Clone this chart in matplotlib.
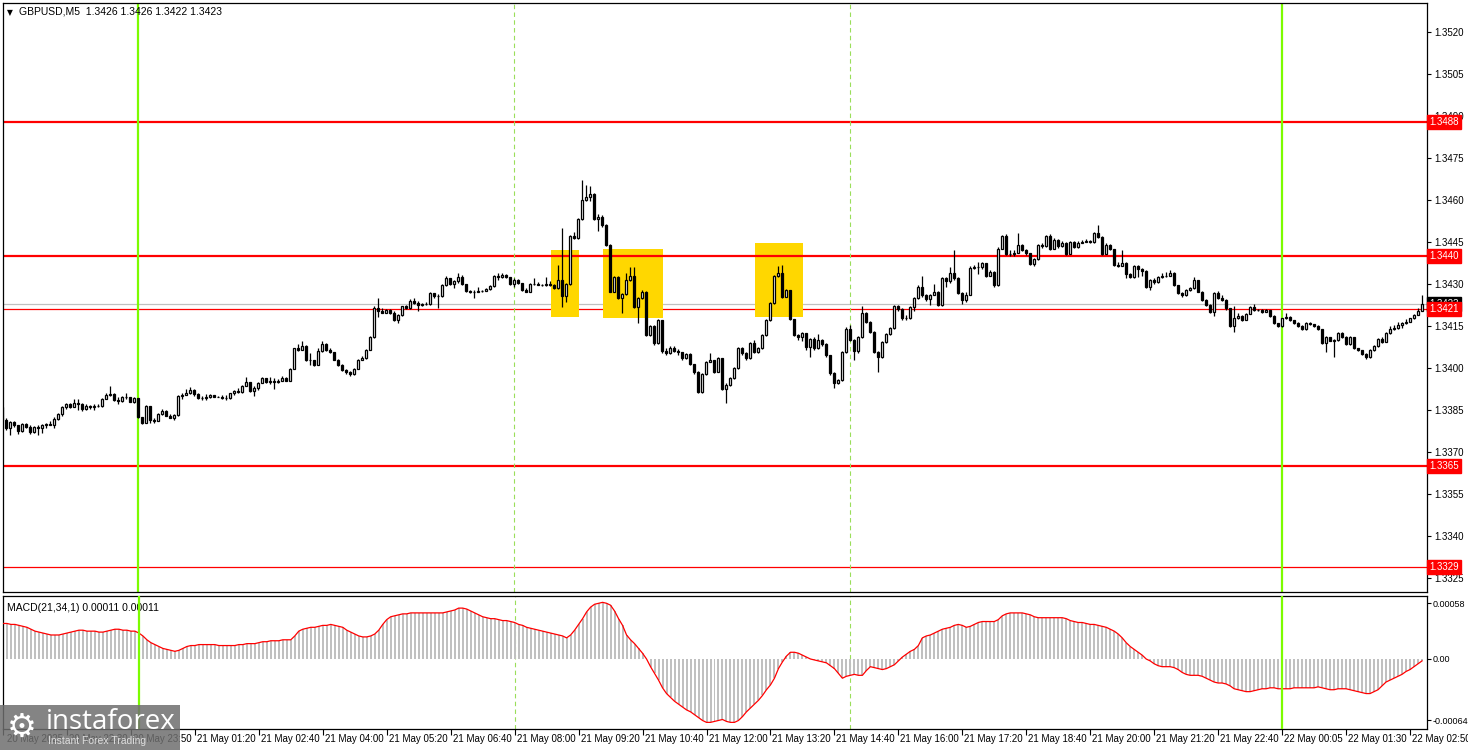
import matplotlib
matplotlib.use("Agg")
import matplotlib.pyplot as plt
import numpy as np
from matplotlib.transforms import blended_transform_factory, offset_copy
from matplotlib.patches import Rectangle

plt.rcParams['font.family'] = ['Liberation Sans', 'DejaVu Sans']

# ---------------- data ----------------
symbol = "GBPUSD,M5"
title_ohlc = "1.3426 1.3426 1.3422 1.3423"
macd_title = "MACD(21,34,1) 0.00011 0.00011"

price_base = 1.3400          # prices below are given in pips relative to this
first_open_pips = -13.8

close_pips = [
    -18.5, -21.5, -19.3, -20.5, -22.5, -20.0, -21.0, -23.0, -21.0, -21.5,
    -20.5, -20.0, -20.2, -18.3, -16.5, -14.0, -13.0, -14.0, -12.5, -12.8,
    -14.5, -13.5, -13.8, -13.5, -13.6, -11.0, -9.5, -9.2, -11.5, -11.8,
    -10.3, -10.5, -12.0, -10.8, -17.5, -19.5, -13.5, -18.5, -18.8, -16.5,
    -15.2, -17.0, -17.8, -16.8, -10.0, -9.5, -8.8, -7.8, -9.2, -10.8,
    -10.8, -10.3, -9.6, -10.2, -10.2, -10.8, -10.8, -9.0, -8.2, -8.5,
    -6.5, -5.0, -8.2, -7.0, -5.2, -3.7, -5.0, -4.5, -5.0, -4.6,
    -3.5, -4.5, -0.3, 7.0, 6.5, 7.8, 3.0, 2.9, 1.2, 6.0,
    8.5, 6.6, 5.6, 3.0, 1.2, -0.7, -1.3, -2.2, -0.3, 2.9,
    3.5, 6.5, 11.0, 21.5, 20.5, 19.8, 20.8, 19.6, 17.1, 18.9,
    22.0, 21.3, 23.9, 23.1, 22.5, 22.9, 22.7, 26.9, 25.8, 25.6,
    29.6, 32.0, 30.2, 31.0, 32.6, 30.0, 27.5, 27.3, 27.3, 27.6,
    27.6, 28.2, 29.2, 32.8, 32.5, 33.3, 32.4, 30.0, 31.5, 30.3,
    27.8, 27.3, 29.9, 30.2, 29.8, 29.6, 30.0, 29.6, 28.5, 31.5,
    25.7, 29.9, 47.1, 46.5, 53.1, 60.0, 61.2, 62.0, 53.1, 54.0,
    51.0, 43.9, 27.3, 32.4, 24.9, 26.3, 31.4, 32.9, 21.9, 24.9,
    27.3, 11.8, 15.0, 8.8, 17.1, 6.0, 5.2, 7.0, 6.2, 5.8,
    3.5, 5.0, 1.4, -1.3, -8.5, -2.1, 2.3, 2.9, -1.3, 3.5,
    -7.6, -6.1, -3.7, -0.1, 7.0, 5.5, 3.5, 8.8, 5.8, 7.0,
    11.8, 17.1, 23.1, 32.9, 34.0, 25.5, 27.9, 17.4, 11.8, 11.2,
    12.4, 7.4, 10.5, 7.0, 10.0, 8.5, 4.6, -1.9, -5.2, -4.3,
    5.8, 14.0, 10.0, 6.0, 11.0, 19.8, 16.5, 13.0, 5.8, 4.0,
    9.4, 12.1, 14.2, 22.0, 21.0, 17.7, 18.0, 21.7, 24.9, 28.8,
    26.1, 24.5, 26.1, 27.3, 22.5, 32.0, 31.2, 33.8, 32.0, 26.9,
    24.3, 26.1, 35.9, 36.2, 36.0, 37.4, 32.9, 34.4, 29.6, 42.7,
    47.1, 40.9, 40.9, 41.0, 43.9, 42.1, 41.0, 37.1, 38.8, 43.9,
    43.5, 47.1, 42.7, 45.9, 43.5, 44.8, 40.9, 45.1, 43.3, 44.8,
    45.1, 45.5, 45.0, 48.1, 46.9, 40.9, 44.0, 42.4, 36.8, 36.6,
    37.5, 33.5, 32.5, 36.5, 35.5, 34.5, 29.0, 31.4, 30.8, 32.6,
    33.0, 33.0, 34.0, 29.6, 26.7, 26.1, 28.0, 28.5, 31.4, 27.3,
    24.3, 22.5, 20.1, 26.9, 25.0, 24.3, 21.3, 15.0, 17.7, 18.6,
    17.1, 19.3, 21.8, 20.7, 20.7, 20.0, 20.7, 18.6, 16.0, 15.0,
    17.7, 18.3, 17.1, 16.2, 15.0, 13.8, 16.0, 15.8, 15.0, 13.8,
    9.0, 11.0, 9.8, 10.0, 12.4, 11.2, 8.5, 11.0, 7.0, 6.4,
    5.0, 3.8, 6.4, 7.9, 10.2, 9.4, 12.6, 13.8, 14.2, 15.5,
    16.0, 16.5, 17.7, 18.9, 20.5, 23.0,
]

high_pips = [
    -13.0, -18.0, -19.0, -19.0, -20.3, -19.5, -19.8, -20.5, -20.8, -20.5,
    -20.0, -19.5, -19.0, -17.5, -16.0, -13.5, -12.5, -12.5, -11.0, -11.0,
    -12.5, -13.0, -13.2, -13.0, -12.8, -10.8, -8.8, -6.5, -9.0, -10.5,
    -10.0, -8.8, -10.2, -10.5, -10.8, -17.5, -13.2, -13.5, -18.0, -16.2,
    -14.8, -15.0, -16.5, -16.3, -9.5, -9.0, -7.5, -6.8, -7.5, -9.0,
    -10.0, -9.2, -9.3, -9.5, -10.0, -9.8, -9.8, -8.8, -8.0, -7.3,
    -6.2, -3.3, -5.0, -6.5, -5.0, -3.3, -3.5, -3.3, -3.5, -4.0,
    -3.0, -3.1, 0.0, 7.3, 8.5, 9.5, 8.2, 5.5, 3.0, 7.2,
    9.5, 8.8, 7.0, 5.8, 3.3, 1.3, -0.4, -1.0, 0.0, 3.2,
    4.2, 6.8, 11.3, 22.0, 24.9, 21.5, 21.2, 21.0, 20.4, 19.2,
    22.3, 22.5, 24.5, 24.9, 24.0, 23.2, 23.5, 27.2, 26.5, 26.5,
    30.0, 32.8, 32.0, 31.5, 33.8, 33.2, 30.2, 27.8, 27.8, 28.8,
    28.0, 28.5, 29.5, 33.2, 33.8, 34.0, 33.5, 32.6, 32.2, 31.8,
    30.5, 28.5, 30.3, 32.0, 30.8, 30.0, 32.5, 31.0, 30.0, 36.8,
    49.9, 30.5, 47.5, 48.5, 53.5, 67.1, 65.5, 65.0, 62.5, 55.0,
    54.5, 51.5, 44.2, 33.0, 32.8, 26.8, 34.0, 36.2, 36.2, 25.5,
    28.0, 27.5, 15.5, 15.2, 17.5, 17.3, 7.0, 8.0, 8.0, 6.8,
    5.8, 5.5, 5.3, 1.6, -1.0, -1.8, 2.6, 5.5, 3.0, 3.8,
    3.6, -5.5, -3.3, 0.3, 7.4, 7.5, 5.8, 9.2, 10.0, 7.5,
    12.2, 17.5, 23.5, 33.3, 36.5, 36.7, 28.3, 28.0, 17.5, 12.0,
    13.0, 12.5, 10.8, 11.0, 12.0, 10.5, 8.8, 4.8, -1.5, -3.8,
    6.2, 14.5, 15.5, 10.2, 11.5, 22.0, 20.0, 16.8, 13.3, 6.0,
    9.8, 12.5, 14.6, 22.4, 22.5, 21.3, 18.8, 22.2, 25.3, 29.5,
    32.8, 26.5, 26.5, 30.0, 27.5, 32.5, 32.5, 36.0, 42.0, 32.5,
    27.2, 27.0, 36.3, 36.8, 38.0, 37.8, 37.6, 35.0, 34.8, 43.2,
    47.5, 48.0, 42.0, 42.0, 48.2, 44.2, 42.5, 41.2, 39.2, 44.3,
    44.5, 47.5, 47.8, 46.3, 46.2, 45.5, 45.0, 45.5, 45.4, 45.5,
    45.8, 46.0, 45.8, 48.5, 51.0, 47.2, 44.5, 44.3, 42.6, 38.0,
    42.1, 37.8, 34.0, 36.8, 36.8, 35.8, 35.0, 31.8, 32.0, 33.0,
    34.0, 34.2, 35.0, 34.2, 29.8, 27.0, 28.4, 29.0, 32.5, 31.6,
    27.5, 24.5, 22.7, 27.3, 27.5, 26.0, 24.5, 21.5, 22.2, 19.5,
    18.8, 19.7, 22.2, 22.8, 21.2, 21.0, 21.2, 20.9, 18.8, 15.4,
    18.0, 19.5, 18.5, 16.5, 16.3, 15.2, 16.4, 16.3, 15.4, 15.2,
    14.0, 11.3, 11.2, 10.3, 13.0, 12.7, 11.5, 11.4, 11.2, 7.2,
    6.6, 5.2, 6.8, 8.3, 10.6, 11.2, 13.0, 15.0, 15.5, 16.5,
    16.6, 17.5, 18.0, 19.3, 21.5, 26.0,
]

low_pips = [
    -19.0, -22.0, -24.0, -21.0, -23.6, -22.8, -21.5, -23.5, -23.3, -24.0,
    -23.3, -21.5, -20.5, -21.5, -18.5, -17.0, -14.5, -14.3, -14.0, -15.0,
    -15.5, -15.0, -14.5, -15.0, -14.0, -14.0, -11.2, -10.0, -11.8, -13.0,
    -12.0, -11.0, -12.2, -12.5, -17.8, -20.0, -19.8, -19.5, -19.8, -19.0,
    -16.8, -17.3, -18.0, -18.5, -17.0, -11.0, -9.8, -9.2, -10.0, -11.2,
    -11.5, -11.5, -10.8, -10.5, -10.5, -11.2, -11.5, -11.0, -9.5, -9.0,
    -8.8, -6.5, -8.5, -10.0, -8.0, -5.5, -5.3, -5.6, -7.5, -5.2,
    -4.8, -4.8, -4.8, -0.5, 6.0, 6.3, 2.5, 1.0, 0.8, 1.0,
    5.8, 6.2, 5.2, 2.7, 0.8, -1.0, -2.0, -3.0, -2.5, -0.5,
    2.7, 3.2, 6.3, 10.8, 18.3, 19.5, 19.6, 19.3, 16.8, 16.0,
    18.7, 21.0, 21.0, 22.8, 20.3, 22.3, 22.4, 22.5, 25.0, 21.5,
    25.3, 29.3, 29.8, 28.5, 30.5, 29.5, 27.0, 26.8, 24.9, 27.0,
    27.2, 27.4, 28.0, 29.0, 31.5, 32.2, 32.0, 29.7, 29.0, 30.0,
    27.4, 27.0, 27.0, 29.6, 29.5, 29.3, 29.3, 29.3, 28.2, 28.3,
    21.9, 23.7, 29.5, 46.0, 46.0, 52.8, 59.5, 59.8, 52.8, 48.8,
    50.5, 43.5, 27.0, 27.0, 24.5, 19.8, 26.0, 31.0, 21.5, 16.0,
    24.5, 11.5, 11.5, 8.3, 8.5, 5.5, 4.8, 5.0, 5.8, 4.5,
    3.0, 3.2, 1.0, -2.0, -9.0, -8.8, -2.5, 2.0, -1.8, -1.5,
    -8.0, -12.4, -6.5, -4.0, -0.5, 4.5, 3.0, 3.2, 5.5, 5.3,
    6.8, 11.5, 16.8, 22.8, 32.5, 25.0, 25.2, 17.0, 11.3, 10.0,
    9.5, 6.5, 4.0, 6.5, 6.8, 8.0, 4.0, -2.5, -7.0, -5.8,
    -4.6, 5.5, 9.5, 3.0, 5.5, 10.8, 16.0, 12.5, 5.3, -1.3,
    3.5, 9.0, 11.8, 13.8, 20.3, 17.2, 17.0, 17.5, 20.5, 24.5,
    25.5, 24.0, 22.5, 26.0, 22.0, 22.2, 29.0, 30.5, 31.5, 26.5,
    23.0, 23.5, 26.0, 35.5, 33.5, 35.5, 32.5, 32.8, 29.0, 29.3,
    42.5, 40.5, 40.0, 40.0, 41.0, 41.8, 40.5, 36.8, 36.5, 38.5,
    43.0, 43.3, 42.3, 42.5, 43.0, 43.3, 40.5, 40.7, 43.0, 43.0,
    44.5, 45.0, 44.5, 44.8, 46.5, 40.5, 40.7, 42.0, 36.4, 36.2,
    36.4, 32.2, 32.0, 32.3, 32.5, 33.0, 28.5, 28.0, 30.2, 30.5,
    32.0, 32.5, 32.8, 29.2, 26.3, 25.5, 25.8, 27.5, 28.2, 27.0,
    23.8, 22.0, 19.7, 18.5, 24.5, 24.0, 20.9, 14.6, 13.0, 17.5,
    16.8, 17.0, 19.2, 20.4, 20.3, 19.7, 20.0, 18.3, 15.7, 14.7,
    14.8, 17.5, 16.8, 15.9, 14.7, 13.5, 13.6, 15.5, 14.8, 13.5,
    8.7, 5.9, 9.5, 3.8, 9.7, 10.8, 8.1, 8.2, 6.7, 6.0,
    4.6, 3.4, 3.5, 6.0, 7.6, 9.0, 9.2, 12.3, 13.5, 14.0,
    14.3, 15.8, 16.5, 17.5, 19.0, 20.5,
]

# MACD histogram / line values in units of 1e-5
macd_e5 = [
    37, 37, 36, 36, 35, 34, 33, 31, 29, 28, 27,
    26, 25, 25, 25, 26, 27, 28, 29, 30, 30,
    29, 29, 29, 28, 28, 29, 30, 31, 31, 30,
    30, 29, 29, 27, 24, 20, 17, 15, 13, 11,
    10, 9, 8, 9, 11, 13, 14, 14, 15, 15,
    15, 15, 15, 14, 14, 14, 14, 14, 15, 15,
    16, 16, 16, 17, 18, 18, 19, 19, 19, 20,
    20, 20, 24, 29, 31, 32, 33, 33, 34, 35,
    35, 36, 35, 34, 33, 30, 28, 26, 24, 23,
    23, 24, 26, 30, 36, 41, 44, 45, 46, 47,
    47, 48, 48, 48, 48, 48, 48, 48, 48, 48,
    49, 50, 51, 53, 53, 52, 50, 48, 46, 44,
    43, 42, 42, 41, 40, 40, 39, 38, 36, 35,
    33, 32, 31, 30, 29, 28, 27, 26, 25, 24,
    22, 25, 30, 36, 42, 49, 54, 57, 58, 59,
    58, 56, 50, 42, 35, 25, 20, 16, 11, 6,
    0, -8, -15, -22, -30, -36, -40, -44, -47, -50,
    -53, -55, -58, -61, -64, -66, -66, -65, -64, -63,
    -65, -66, -66, -64, -60, -55, -51, -47, -43, -38,
    -32, -27, -20, -10, -3, 3, 7, 7, 6, 4,
    2, 0, -1, -2, -3, -4, -7, -10, -15, -20,
    -18, -17, -16, -17, -17, -12, -8, -9, -10, -11,
    -10, -8, -6, -2, 2, 5, 8, 10, 14, 22,
    24, 25, 27, 29, 31, 32, 33, 35, 36, 35,
    33, 34, 36, 38, 39, 39, 39, 39, 41, 45,
    47, 48, 48, 48, 48, 47, 46, 44, 43, 43,
    43, 43, 43, 43, 43, 42, 40, 39, 38, 38,
    37, 36, 36, 35, 34, 33, 31, 29, 26, 22,
    17, 13, 10, 7, 4, 0, -2, -5, -7, -8,
    -8, -8, -9, -11, -14, -16, -17, -17, -17, -18,
    -20, -22, -24, -25, -25, -26, -28, -31, -32, -33,
    -34, -34, -33, -32, -31, -31, -30, -30, -31, -31,
    -31, -31, -30, -30, -30, -30, -30, -30, -29, -30,
    -31, -32, -32, -31, -31, -31, -32, -33, -34, -35,
    -36, -36, -34, -32, -28, -24, -22, -20, -18, -16,
    -13, -11, -8, -5, -2,
]

time_tick_bars = list(range(0, 353, 16))
time_tick_labels = [
    "20 May 2025", "20 May 22:30", "20 May 23:50", "21 May 01:20", "21 May 02:40",
    "21 May 04:00", "21 May 05:20", "21 May 06:40", "21 May 08:00", "21 May 09:20",
    "21 May 10:40", "21 May 12:00", "21 May 13:20", "21 May 14:40", "21 May 16:00",
    "21 May 17:20", "21 May 18:40", "21 May 20:00", "21 May 21:20", "21 May 22:40",
    "22 May 00:05", "22 May 01:30", "22 May 02:50",
]

price_ticks = [1.3325, 1.3340, 1.3355, 1.3370, 1.3385, 1.3400, 1.3415, 1.3430,
               1.3445, 1.3460, 1.3475, 1.3490, 1.3505, 1.3520]
levels_thick = [1.3488, 1.3440, 1.3365]
levels_thin = [1.3329]
ask_level = 1.3421
bid_level = 1.3423
day_lines = [34, 320]
session_lines = [128, 212]
# (first bar, last bar, low price, high price)
signal_boxes = [(137.25, 144.25, 1.34183, 1.34421),
                (150.25, 165.2, 1.34180, 1.34425),
                (188.25, 200.2, 1.34183, 1.34446)]
macd_ticks = [0.00058, 0.0, -0.00064]
macd_tick_labels = ["0.00058", "0.00", "-0.00064"]

# ---------------- derived ----------------
n = len(close_pips)
idx = np.arange(n)
closes = price_base + np.array(close_pips) / 1e4
opens = np.concatenate([[price_base + first_open_pips / 1e4], closes[:-1]])
highs = np.maximum.reduce([price_base + np.array(high_pips) / 1e4, opens, closes])
lows = np.minimum.reduce([price_base + np.array(low_pips) / 1e4, opens, closes])
macd = np.array(macd_e5) * 1e-5

W, H = 1468, 750
FS = 7
fig = plt.figure(figsize=(W / 100, H / 100), dpi=100)
fig.patch.set_facecolor("white")
ax = fig.add_axes([3 / W, 1 - 592 / H, 1424 / W, 589 / H])
ax2 = fig.add_axes([3 / W, 1 - 729 / H, 1424 / W, 133 / H])

RED = "#FF0000"
GREEN = "#7CFC00"
LGREEN = "#9ADE5A"

# ---- main price panel ----
for lv in levels_thin:
    ax.axhline(lv, color=RED, lw=0.9, zorder=1)
ax.axhline(bid_level, color="#C0C0C0", lw=0.9, zorder=1)
ax.axhline(ask_level, color=RED, lw=0.9, zorder=1)
for (x0, x1, y0, y1) in signal_boxes:
    ax.add_patch(Rectangle((x0, y0), x1 - x0, y1 - y0, facecolor="#FFD700",
                           edgecolor="none", zorder=1.5))
for lv in levels_thick:
    ax.axhline(lv, color=RED, lw=1.6, zorder=2)
for b in day_lines:
    ax.axvline(b, color=GREEN, lw=1.6, zorder=2)
for b in session_lines:
    ax.axvline(b, color=LGREEN, lw=0.8, dashes=(4, 3), zorder=2)

ax.vlines(idx, lows, highs, color="black", lw=0.9, zorder=3)
up = closes >= opens
body_bot = np.minimum(opens, closes)
body_h = np.abs(closes - opens)
ax.bar(idx[up], body_h[up], bottom=body_bot[up], width=0.62,
       facecolor="white", edgecolor="black", linewidth=0.9, zorder=4)
ax.bar(idx[~up], body_h[~up], bottom=body_bot[~up], width=0.62,
       facecolor="black", edgecolor="black", linewidth=0.9, zorder=4)

ax.set_xlim(0.25, n + 0.25)
ax.set_ylim(1.3320, 1.35304)
ax.set_xticks([])
ax.yaxis.tick_right()
ax.set_yticks(price_ticks)
ax.set_yticklabels([f"{t:.4f}" for t in price_ticks])
ax.tick_params(axis="y", direction="out", length=3, width=0.8, pad=2,
               labelsize=FS, colors="black")
for s in ax.spines.values():
    s.set_color("black")
    s.set_linewidth(0.9)

trans = blended_transform_factory(ax.transAxes, ax.transData)
ax.text(1.0014, bid_level, f"{bid_level:.4f}", transform=trans, ha="left", va="center",
        fontsize=FS, color="white", zorder=10, clip_on=False,
        bbox=dict(boxstyle="square,pad=0.22", fc="black", ec="black"))
for lv in levels_thick + levels_thin + [ask_level]:
    ax.text(1.0014, lv, f"{lv:.4f}", transform=trans, ha="left", va="center",
            fontsize=FS, color="white", zorder=11, clip_on=False,
            bbox=dict(boxstyle="square,pad=0.22", fc=RED, ec=RED))

ax.text(0.003, 0.992, "\u25BC", transform=ax.transAxes, ha="left", va="top",
        fontsize=5.5, family=["DejaVu Sans"])
ax.text(0.0115, 0.994, f"{symbol}  {title_ohlc}", transform=ax.transAxes,
        ha="left", va="top", fontsize=7.5)

# ---- MACD panel ----
ax2.bar(idx, macd, width=0.5, color="#C0C0C0", zorder=2)
ax2.plot(idx, macd, color=RED, lw=0.9, zorder=3)
for b in day_lines:
    ax2.axvline(b, color=GREEN, lw=1.6, zorder=4)
for b in session_lines:
    ax2.axvline(b, color=LGREEN, lw=0.8, dashes=(4, 3), zorder=1)
ax2.set_xlim(0.25, n + 0.25)
ax2.set_ylim(-0.000729, 0.000656)
ax2.yaxis.tick_right()
ax2.set_yticks(macd_ticks)
ax2.set_yticklabels(macd_tick_labels)
ax2.tick_params(axis="y", direction="out", length=3, width=0.8, pad=1,
                labelsize=6.5)
ax2.set_xticks(time_tick_bars)
ax2.set_xticklabels([])
ax2.tick_params(axis="x", direction="out", length=4, width=0.8)
for s in ax2.spines.values():
    s.set_color("black")
    s.set_linewidth(0.9)
ax2.text(0.003, 0.95, macd_title, transform=ax2.transAxes, ha="left", va="top",
         fontsize=7.5)

xtrans = offset_copy(blended_transform_factory(ax2.transData, ax2.transAxes),
                     fig=fig, x=2, y=-5, units="dots")
for b, lab in zip(time_tick_bars, time_tick_labels):
    ax2.text(max(b, 0.6), 0, lab, transform=xtrans, ha="left", va="top",
             fontsize=FS, clip_on=False)

# ---- watermark ----
fig.patches.append(Rectangle((0, 0), 180 / W, 45 / H, transform=fig.transFigure,
                             facecolor="#6E6E6E", alpha=0.85, edgecolor="none",
                             zorder=20))
fig.text(7 / W, 1 - 727 / H, "\u2699", fontsize=24, color="white",
         family=["DejaVu Sans"], va="center", ha="left", zorder=21)
fig.text(46 / W, 1 - 722 / H, "instaforex", fontsize=20, color="white",
         family=["Open Sans", "DejaVu Sans"], va="center", ha="left", zorder=21)
fig.text(48 / W, 1 - 741 / H, "Instant Forex Trading", fontsize=7.5,
         color="#DDDDDD", va="center", ha="left", zorder=21)

fig.savefig("out.png", dpi=100, facecolor="white")
